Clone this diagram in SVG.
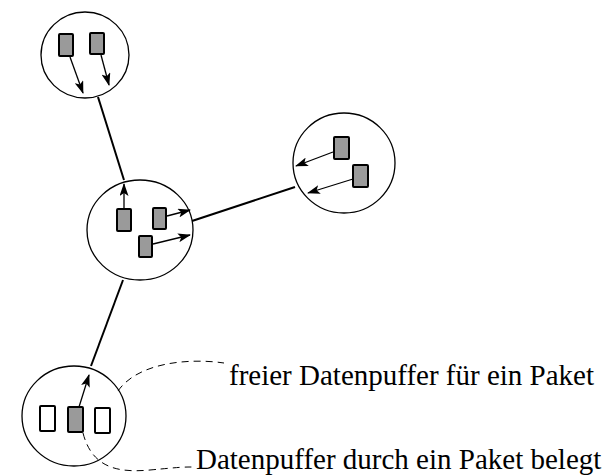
<svg xmlns="http://www.w3.org/2000/svg" width="610" height="476" viewBox="0 0 610 476">
  <style>
    .node { fill: none; stroke: #000; stroke-width: 1.3; }
    .buf { stroke: #000; stroke-width: 2; }
    .full { fill: #9a9a9a; }
    .free { fill: #fff; }
    .link { fill: none; stroke: #000; stroke-width: 2; }
    .move { fill: none; stroke: #000; stroke-width: 1.3; marker-end: url(#head); }
    .note { fill: none; stroke: #000; stroke-width: 1; stroke-dasharray: 7 5; }
    .label { font-family: "Liberation Serif", "Times New Roman", serif; font-size: 29px; fill: #000; }
  </style>
  <defs>
    <marker id="head" viewBox="0 0 13 9" refX="12" refY="4.5" markerWidth="13" markerHeight="9" markerUnits="userSpaceOnUse" orient="auto">
      <path d="M0,0 L13,4.5 L0,9 L3,4.5 Z" fill="#000"/>
    </marker>
  </defs>

  <!-- links between routers -->
  <g id="links">
    <line class="link" x1="98" y1="97" x2="124" y2="180"/>
    <line class="link" x1="192" y1="221" x2="295" y2="187"/>
    <line class="link" x1="123" y1="280" x2="91" y2="366"/>
  </g>

  <g id="node-top">
    <ellipse class="node" cx="85" cy="55" rx="44" ry="43"/>
    <rect class="buf full" x="59" y="34" width="14" height="22" rx="1"/>
    <rect class="buf full" x="90" y="33" width="14" height="21" rx="1"/>
  </g>

  <g id="node-center">
    <ellipse class="node" cx="140" cy="230" rx="53" ry="50"/>
    <rect class="buf full" x="117" y="209" width="14" height="22" rx="1"/>
    <rect class="buf full" x="153" y="208" width="13" height="21" rx="1"/>
    <rect class="buf full" x="139" y="236" width="13" height="21" rx="1"/>
  </g>

  <g id="node-right">
    <ellipse class="node" cx="344" cy="163" rx="51" ry="50"/>
    <rect class="buf full" x="334" y="137" width="15" height="22" rx="1"/>
    <rect class="buf full" x="353" y="165" width="15" height="22" rx="1"/>
  </g>

  <g id="node-bottom">
    <ellipse class="node" cx="74" cy="416" rx="52" ry="50"/>
    <rect class="buf free" x="40" y="406" width="15" height="25" rx="1"/>
    <rect class="buf full" x="68" y="407" width="15" height="25" rx="1"/>
    <rect class="buf free" x="95" y="408" width="15" height="25" rx="1"/>
  </g>

  <!-- packet movements -->
  <g id="moves">
    <line class="move" x1="70" y1="57" x2="83" y2="93"/>
    <line class="move" x1="101" y1="55" x2="109" y2="85"/>
    <line class="move" x1="124" y1="209" x2="124" y2="184"/>
    <line class="move" x1="167" y1="216" x2="190" y2="210"/>
    <line class="move" x1="153" y1="244" x2="190" y2="235"/>
    <line class="move" x1="333" y1="152" x2="296" y2="166"/>
    <line class="move" x1="353" y1="179" x2="308" y2="193"/>
    <line class="move" x1="79" y1="407" x2="89" y2="375"/>
  </g>

  <!-- annotation leaders -->
  <g id="notes">
    <path class="note" d="M118,391 C138,362 190,358 224,363"/>
    <path class="note" d="M83,433 C92,468 118,473 150,470 S183,467 193,467"/>
  </g>

  <g id="labels">
    <text class="label" x="229" y="385">freier Datenpuffer für ein Paket</text>
    <text class="label" x="196" y="469">Datenpuffer durch ein Paket belegt</text>
  </g>
</svg>
